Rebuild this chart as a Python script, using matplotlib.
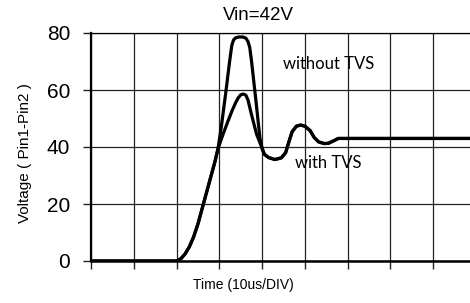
import numpy as np
import matplotlib
matplotlib.use('Agg')
import matplotlib.pyplot as plt

# time in divisions (10us/DIV), voltage in V
rise_t = [0.0, 2.0, 2.1, 2.2, 2.3, 2.4, 2.5, 2.6, 2.7, 2.8, 2.9, 2.97]
rise_v = [0.0, 0.0, 0.8, 2.5, 5.0, 8.5, 13.0, 18.5, 24.0, 29.5, 35.0, 39.5]

# without TVS peak
peak_no_t = [3.05, 3.15, 3.24, 3.29, 3.33, 3.38, 3.45, 3.55, 3.62, 3.67, 3.71,
             3.75, 3.85, 3.95, 4.0]
peak_no_v = [47.5, 59.0, 70.0, 75.5, 77.5, 78.3, 78.6, 78.6, 78.2, 77.0, 75.0,
             70.5, 57.0, 43.0, 39.5]

# with TVS peak
peak_tvs_t = [3.1, 3.2, 3.3, 3.38, 3.44, 3.5, 3.56, 3.62, 3.67, 3.75, 3.87, 3.99]
peak_tvs_v = [45.0, 49.0, 52.8, 55.5, 57.2, 58.3, 58.6, 58.2, 56.5, 51.5, 44.5, 40.0]

# common ringing tail
tail_t = [4.05, 4.15, 4.3, 4.45, 4.55, 4.62, 4.7, 4.8, 4.9, 5.0, 5.12, 5.22,
          5.32, 5.45, 5.55, 5.65, 5.78, 8.86]
tail_v = [37.5, 36.3, 35.6, 36.2, 38.0, 41.5, 45.3, 47.3, 47.7, 47.3, 45.8, 43.3,
          41.8, 41.2, 41.3, 42.0, 43.0, 43.0]

yticks = [0, 20, 40, 60, 80]

W, H = 470, 303
fig = plt.figure(figsize=(W / 100, H / 100), dpi=100)
ax = fig.add_axes([91 / W, 42 / H, 1 - 91 / W, 228 / H])

no_t = rise_t + peak_no_t + tail_t
no_v = rise_v + peak_no_v + tail_v
tvs_t = rise_t + peak_tvs_t + tail_t
tvs_v = rise_v + peak_tvs_v + tail_v

kw = dict(color='black', lw=2.3, solid_joinstyle='round', solid_capstyle='round', zorder=3)
ax.plot(no_t, no_v, **kw)
ax.plot(tvs_t, tvs_v, **kw)

ax.set_xlim(0, 8.86)
ax.set_ylim(0, 80)
ax.set_xticks(np.arange(0, 9))
ax.set_xticklabels([])
ax.set_yticks(yticks)
ax.set_yticklabels([str(v) for v in yticks], family='Liberation Sans', fontsize=15)
ax.tick_params(axis='both', direction='out', length=6, width=1, color='#222222', pad=9)
ax.grid(True, color='#222222', lw=0.9)

ax.spines['right'].set_visible(False)
ax.spines['top'].set_linewidth(0.9)
ax.spines['left'].set_linewidth(1.6)
ax.spines['bottom'].set_linewidth(1.8)
ax.spines['left'].set_zorder(2.5)
ax.spines['bottom'].set_zorder(2.5)

fig.text(258 / W, 1 - 15 / H, 'Vin=42V', ha='center', va='center',
         family='Liberation Sans', fontsize=13.5)
fig.text(25 / W, 1 - 153.5 / H, 'Voltage ( Pin1-Pin2 )', rotation=90,
         ha='center', va='center', family='Liberation Sans', fontsize=11)
fig.text(243.5 / W, 1 - 285 / H, 'Time (10us/DIV)', ha='center', va='center',
         family='Liberation Sans', fontsize=10)
fig.text(283 / W, 1 - 64 / H, 'without TVS', ha='left', va='center',
         family='Lato', fontsize=12)
fig.text(295 / W, 1 - 163 / H, 'with TVS', ha='left', va='center',
         family='Lato', fontsize=12)

fig.savefig('out.png', dpi=100)
